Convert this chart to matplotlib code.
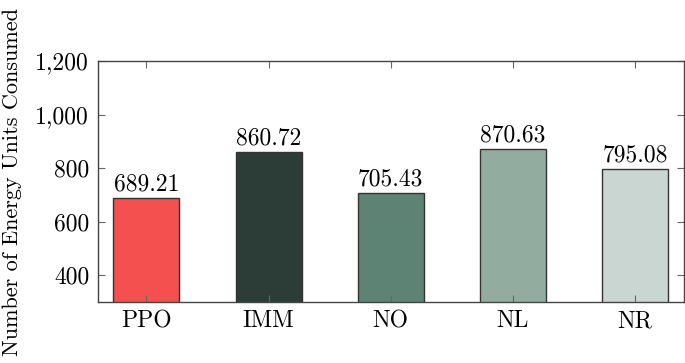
import matplotlib.pyplot as plt
from matplotlib.ticker import FuncFormatter

# data
methods = ['PPO', 'IMM', 'NO', 'NL', 'NR']
energy = [689.21, 860.72, 705.43, 870.63, 795.08]
colors = ['#F45050', '#2C3C36', '#5C8374', '#93ACA0', '#C9D6D2']
yticks = [400, 600, 800, 1000, 1200]

plt.rcParams['font.family'] = 'serif'
plt.rcParams['font.serif'] = ['cmr10']
plt.rcParams['mathtext.fontset'] = 'cm'
plt.rcParams['axes.unicode_minus'] = False

fig = plt.figure(figsize=(6.85, 3.63), dpi=100)
ax = fig.add_axes([97.5 / 685, 1 - 302 / 363, (684 - 97.5) / 685, (302 - 61) / 363])

x = range(len(methods))
bars = ax.bar(x, energy, width=0.54, color=colors, edgecolor='#333333', linewidth=1.0)
for b, v in zip(bars, energy):
    ax.annotate(f'{v:.2f}', (b.get_x() + b.get_width() / 2, v), xytext=(0, 2),
                textcoords='offset points', ha='center', va='bottom', fontsize=17)

ax.set_xlim(-0.4, 4.4)
ax.set_ylim(300, 1200)
ax.set_xticks(list(x))
ax.set_xticklabels(methods)
ax.set_yticks(yticks)
ax.yaxis.set_major_formatter(FuncFormatter(lambda v, p: f'{int(v):,}'))
ax.tick_params(direction='in', top=True, right=True, labelsize=17, length=5,
               width=0.8, color='#666666', pad=6)
for s in ax.spines.values():
    s.set_color('#444444')
    s.set_linewidth(1.0)

ax.set_ylabel('Number of Energy Units Consumed', fontsize=16)
ax.yaxis.set_label_coords(-0.128, 0.5)

fig.savefig('out.png', dpi=100)
